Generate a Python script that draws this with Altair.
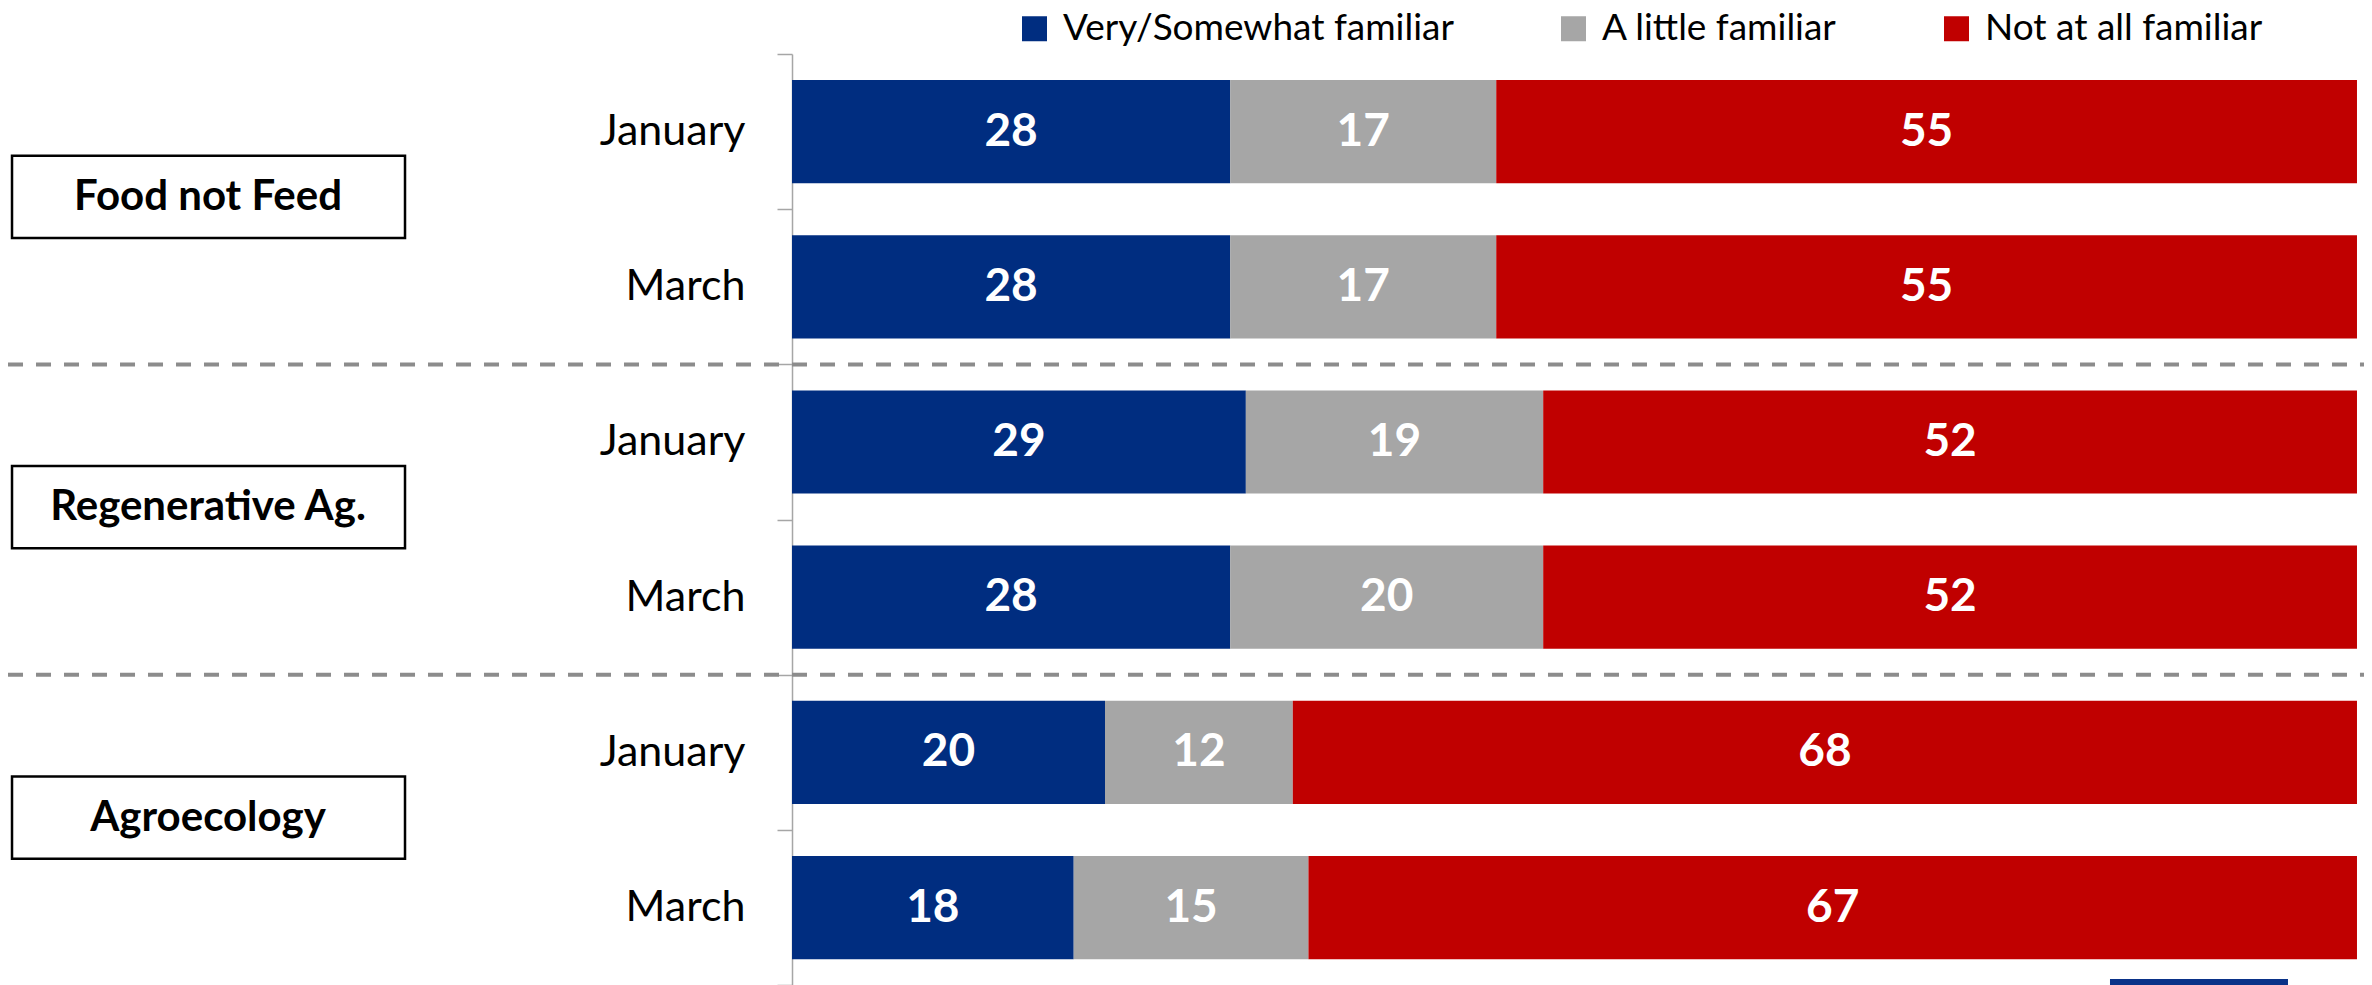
import altair as alt
import pandas as pd

groups = ["Food not Feed", "Regenerative Ag.", "Agroecology"]
months = ["January", "March"]
categories = ["Very/Somewhat familiar", "A little familiar", "Not at all familiar"]
very_somewhat = [28, 28, 29, 28, 20, 18]
a_little = [17, 17, 19, 20, 12, 15]
not_at_all = [55, 55, 52, 52, 68, 67]
colors = ["#002D80", "#A6A6A6", "#C00000"]

rows = []
row_keys = []
series = [very_somewhat, a_little, not_at_all]
for gi, g in enumerate(groups):
    for mi, m in enumerate(months):
        key = f"{g}|{m}"
        row_keys.append(key)
        idx = gi * 2 + mi
        for ci, c in enumerate(categories):
            rows.append({"row": key, "month": m, "category": c, "order": ci,
                         "value": series[ci][idx]})
df = pd.DataFrame(rows)
deco_df = pd.DataFrame({"group": groups, "gi": list(range(len(groups)))})

W = 1565
STEP = 155.2
H = STEP * 6
FONT = "Lato"

y_axis = alt.Axis(title=None, labelExpr="split(datum.value, '|')[1]", tickBand="extent",
                  tickSize=15, tickColor="#A6A6A6", tickWidth=1.5,
                  domainColor="#A6A6A6", domainWidth=1.5,
                  labelFontSize=43, labelFont=FONT, labelColor="#000000",
                  labelPadding=32, labelAlign="right", labelBaseline="middle")
y_scale = alt.Scale(domain=row_keys, paddingInner=0, paddingOuter=0)
y_enc = alt.Y("row:N", sort=row_keys, scale=y_scale, axis=y_axis)

base = alt.Chart(df).transform_stack(
    stack="value", groupby=["row"], as_=["x0", "x1"], sort=[alt.SortField("order")]
).transform_calculate(mid="(datum.x0 + datum.x1) / 2")

bars = base.mark_bar(height=alt.RelativeBandSize(0.665)).encode(
    y=y_enc,
    x=alt.X("x0:Q", scale=alt.Scale(domain=[0, 100], nice=False, zero=False), axis=None),
    x2="x1:Q",
    color=alt.Color("category:N", scale=alt.Scale(domain=categories, range=colors),
                    legend=alt.Legend(title=None, orient="none", legendX=224, legendY=-44,
                                      direction="horizontal", symbolType="square",
                                      symbolSize=625, symbolStrokeWidth=0, symbolOpacity=1,
                                      labelFontSize=37, labelFont=FONT, labelColor="#000000",
                                      labelLimit=1000, labelOffset=10, columnPadding=100,
                                      padding=0)),
)

labels = base.mark_text(font=FONT, fontWeight="bold", fontSize=46, color="white",
                        baseline="middle", align="center").encode(
    y=y_enc,
    x=alt.X("mid:Q", scale=alt.Scale(domain=[0, 100], nice=False, zero=False), axis=None),
    text="value:Q",
)

ydeco = alt.Scale(domain=[0, 6], reverse=True, nice=False, zero=False)

seps = alt.Chart(deco_df).transform_filter("datum.gi > 0").transform_calculate(
    b="2 * datum.gi"
).mark_rule(strokeDash=[15, 13], strokeWidth=4, color="#8C8C8C").encode(
    y=alt.Y("b:Q", scale=ydeco, axis=None),
    x=alt.value(-784), x2=alt.value(1572),
)

deco_base = alt.Chart(deco_df).transform_calculate(
    c="2 * datum.gi + 1 - 0.08", top="datum.c - 0.265", bot="datum.c + 0.265"
)
boxes = deco_base.mark_rect(fill="white", stroke="black", strokeWidth=2.5).encode(
    y=alt.Y("top:Q", scale=ydeco, axis=None), y2="bot:Q",
    x=alt.value(-780), x2=alt.value(-387),
)
box_text = deco_base.mark_text(font=FONT, fontWeight="bold", fontSize=42, color="black",
                               baseline="middle", align="center").encode(
    y=alt.Y("c:Q", scale=ydeco, axis=None),
    x=alt.value(-584),
    text="group:N",
)

footer = alt.Chart(pd.DataFrame({"k": [0]})).mark_rect(color="#0A3288").encode(
    x=alt.value(1318), x2=alt.value(1496), y=alt.value(925), y2=alt.value(945),
)

chart = alt.layer(
    alt.layer(bars, labels),
    alt.layer(seps, boxes, box_text, footer),
).resolve_scale(y="independent").properties(
    width=W, height=H,
    padding={"left": 784, "top": 46, "right": 7, "bottom": 0},
    autosize="none",
    background="white",
).configure_view(stroke=None)

chart.save("out.html", embed_options={"renderer": "svg", "actions": False})
